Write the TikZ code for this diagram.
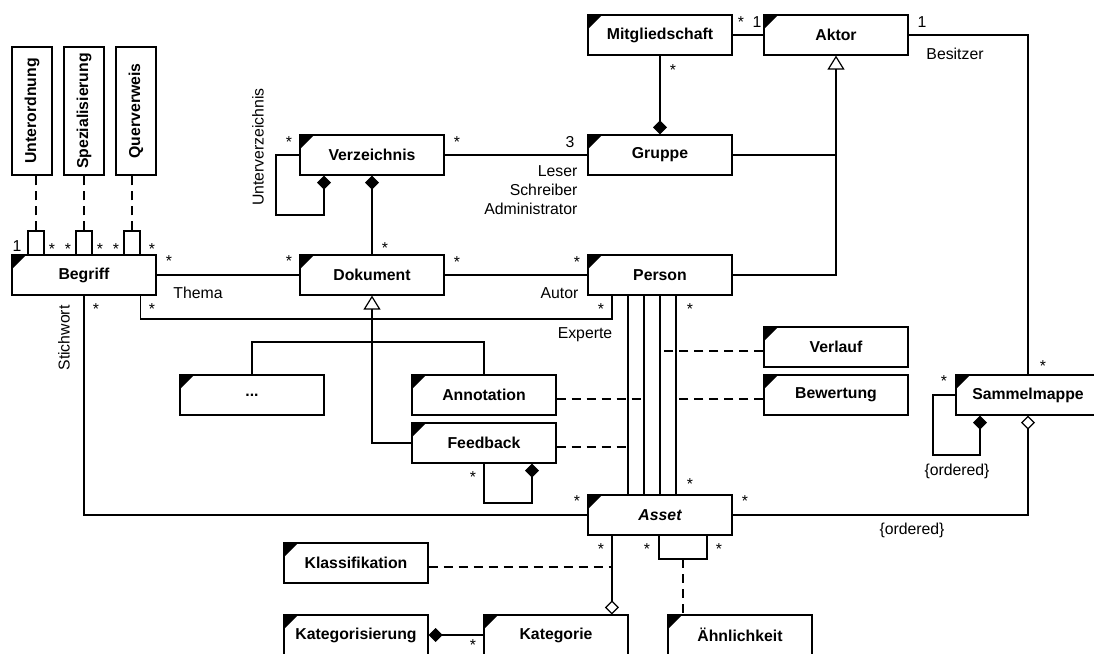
\documentclass[tikz,border=0pt]{standalone}
\usepackage{fontspec}
\setmainfont{Liberation Sans}
\usetikzlibrary{arrows.meta}
\begin{document}
\begin{tikzpicture}[x=1pt,y=-1pt,line width=1.2pt,
  lbl/.style={font=\fontsize{15.8}{19}\selectfont, inner sep=0pt},
  cls/.style={draw, fill=white, inner sep=0pt, minimum width=144pt, minimum height=40pt,
    font=\fontsize{15.8}{19}\selectfont\bfseries,
    path picture={\fill[black] (path picture bounding box.north west) -- ++(14pt,0pt) -- ++(-14pt,-14pt) -- cycle;}},
  vcls/.style={draw, fill=white, inner sep=0pt, minimum width=40pt, minimum height=128pt,
    font=\fontsize{15.8}{19}\selectfont\bfseries},
  qual/.style={draw, fill=white, inner sep=0pt, minimum width=16pt, minimum height=24pt},
  dsh/.style={dash pattern=on 9pt off 6pt},
  comp/.style={-{Diamond[length=14pt,width=14pt]}},
  aggr/.style={-{Diamond[open,length=14pt,width=14pt]}},
  gen/.style={-{Triangle[open,length=14pt,width=17pt]}},
]
\useasboundingbox (0,0) rectangle (1094,653);
\clip (0,0) rectangle (1094,653);

% classes
\node[vcls] (unt)  at (32,111)  {\rotatebox{90}{Unterordnung}};
\node[vcls] (spez) at (84,111)  {\rotatebox{90}{Spezialisierung}};
\node[vcls] (quer) at (136,111) {\rotatebox{90}{Querverweis}};
\node[cls] (begriff) at (84,275) {Begriff};
\node[qual] (q1) at (36,243) {};
\node[qual] (q2) at (84,243) {};
\node[qual] (q3) at (132,243) {};
\node[cls] (verz)    at (372,155) {Verzeichnis};
\node[cls] (dok)     at (372,275) {Dokument};
\node[cls] (mitg)    at (660,35)  {Mitgliedschaft};
\node[cls] (aktor)   at (836,35)  {Aktor};
\node[cls] (gruppe)  at (660,155) {Gruppe};
\node[cls] (person)  at (660,275) {Person};
\node[cls] (etc)     at (252,395) {...};
\node[cls] (annot)   at (484,395) {Annotation};
\node[cls] (feedb)   at (484,443) {Feedback};
\node[cls] (verlauf) at (836,347) {Verlauf};
\node[cls] (bewert)  at (836,395) {Bewertung};
\node[cls] (sammel)  at (1028,395) {Sammelmappe};
\node[cls] (asset)   at (660,515) {\itshape Asset};
\node[cls] (klass)   at (356,563) {Klassifikation};
\node[cls] (katsier) at (356,635) {Kategorisierung};
\node[cls] (kat)     at (556,635) {Kategorie};
\node[cls] (aehnl)   at (740,635) {Ähnlichkeit};

% qualified associations of Begriff
\draw[dsh] (q1.north) -- (q1.north |- unt.south);
\draw[dsh] (q2.north) -- (q2.north |- spez.south);
\draw[dsh] (q3.north) -- (q3.north |- quer.south);

% associations
\draw (begriff.east) -- (dok.west);
\draw (verz.east) -- (gruppe.west);
\draw (dok.east) -- (person.west);
\draw (mitg.east) -- (aktor.west);
\draw[comp] (mitg.south) -- (gruppe.north);
\draw[comp] (dok.north) -- (verz.south);
\coordinate (vloop) at (276,215);
\draw[comp] (verz.west) -| (vloop) -| ([xshift=-48pt]verz.south);
\draw[gen] (person.east) -| (aktor.south);
\draw (gruppe.east) -- (gruppe.east -| aktor.south);
\draw (aktor.east) -| (sammel.north);
\coordinate (sloop) at (933,455);
\draw[comp] (sammel.west) -| (sloop) -| ([xshift=-48pt]sammel.south);
\draw[aggr] (asset.east) -| (sammel.south);
\draw (begriff.south) |- (asset.west);
\coordinate (expert) at (612,319);
\draw ([xshift=-16pt]begriff.south east) |- (expert) -- (expert |- person.south);

% specialisations of Dokument
\coordinate (genbar) at (372,342);
\draw[gen] (feedb.west) -| (dok.south);
\draw (etc.north) |- (genbar) -| (annot.north);
\coordinate (floop) at (532,503);
\draw[comp] (feedb.south) |- (floop) -- (floop |- feedb.south);

% Person -- Asset with association classes
\draw ([xshift=-32pt]person.south) coordinate (pa) -- ([xshift=-32pt]asset.north);
\draw ([xshift=-16pt]person.south) coordinate (pb) -- ([xshift=-16pt]asset.north);
\draw (person.south) coordinate (pc) -- (asset.north);
\draw ([xshift=16pt]person.south) coordinate (pd) -- ([xshift=16pt]asset.north);
\draw[dsh] ([yshift=-4pt]feedb.east) -- ([yshift=-4pt]feedb.east -| pa);
\draw[dsh] ([yshift=-4pt]annot.east) -- ([yshift=-4pt]annot.east -| pb);
\draw[dsh] ([yshift=-4pt]verlauf.west) -- ([yshift=-4pt]verlauf.west -| pc);
\draw[dsh] ([yshift=-4pt]bewert.west) -- ([yshift=-4pt]bewert.west -| pd);

% Asset below
\draw[aggr] ([xshift=24.5pt]asset.south west) coordinate (ak) -- (ak |- kat.north);
\draw[dsh] ([yshift=-4pt]klass.east) -- ([yshift=-4pt]klass.east -| ak);
\coordinate (aloop) at (707,559);
\coordinate (amid) at (683,559);
\draw ([xshift=-1pt]asset.south) |- (aloop) -- (aloop |- asset.south);
\draw[dsh] (amid) -- (amid |- aehnl.north);
\draw[comp] (kat.west) -- (katsier.east);

% multiplicities
\node[lbl] (m1) at (17,246) {1};
\foreach \px/\py [count=\i] in {52/249,68/249,100/249,116/249,152/249,
    169/261,289/261,96/309,152/309,289/142,457/142,385/248,457/262,577/262,
    601/309,690/309,690/484,577/501,745/501,601/549,647/549,719/549,
    473/645,473/477,741/22,673/70,1043/366,944/381}
  \node[lbl] (st\i) at (\px,\py) {*};
\node[lbl] (m3) at (570,142) {3};
\node[lbl] (m4) at (757,22) {1};
\node[lbl] (m5) at (922,22) {1};

% role names and constraints
\node[lbl] (thema) at (198,293) {Thema};
\node[lbl, anchor=east] (autor) at (579,293) {Autor};
\node[lbl] (experte) at (585,335) {Experte};
\node[lbl] (besitzer) at (955,54) {Besitzer};
\node[lbl] (ord1) at (957,471) {\{ordered\}};
\node[lbl] (ord2) at (912,530) {\{ordered\}};
\node[lbl, anchor=east, align=right] (rollen) at (578,190) {Leser\\Schreiber\\Administrator};
\node[lbl] (unterv) at (258,147) {\rotatebox{90}{Unterverzeichnis}};
\node[lbl] (stichw) at (64,338) {\rotatebox{90}{Stichwort}};
\end{tikzpicture}
\end{document}
